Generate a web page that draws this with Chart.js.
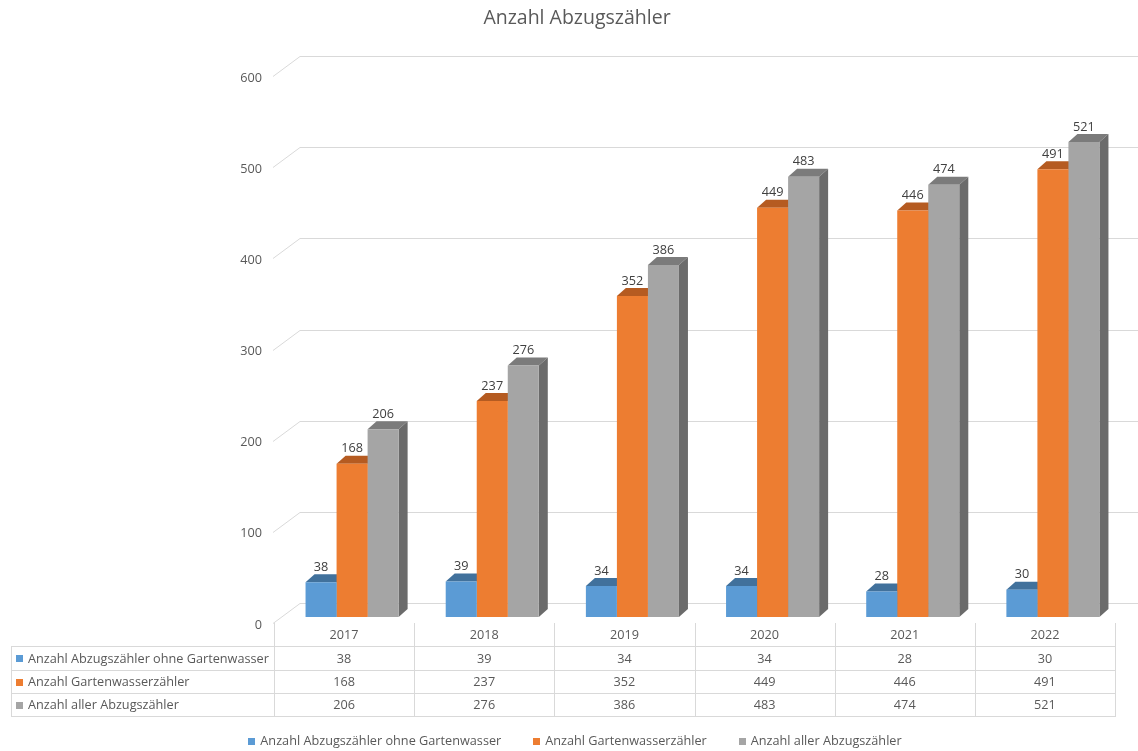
<!DOCTYPE html>
<html lang="de">
<head>
<meta charset="utf-8">
<title>Anzahl Abzugszähler</title>
<script src="https://cdn.jsdelivr.net/npm/chart.js@4.4.1/dist/chart.umd.min.js"></script>
<style>
  html, body { margin: 0; padding: 0; background: #fff; }
</style>
</head>
<body>
<canvas id="myChart" width="1138" height="751"></canvas>
<script>
// Daten
const jahre = ['2017', '2018', '2019', '2020', '2021', '2022'];
const ohneGartenwasser = [38, 39, 34, 34, 28, 30];
const gartenwasser = [168, 237, 352, 449, 446, 491];
const alleAbzug = [206, 276, 386, 483, 474, 521];
const serienNamen = [
    'Anzahl Abzugszähler ohne Gartenwasser',
    'Anzahl Gartenwasserzähler',
    'Anzahl aller Abzugszähler'
];
const titel = 'Anzahl Abzugszähler';
const yTicks = [0, 100, 200, 300, 400, 500, 600];

// Farben (Vorderseite, Oberseite, Seite)
const frontColors = ['#5b9bd5', '#ed7d31', '#a5a5a5'];
const topColors = ['#41719c', '#b55b21', '#7b7b7b'];
const sideColors = ['#3c6890', '#a9541e', '#6b6b6b'];
const FONT = '"Open Sans", "Noto Sans", sans-serif';
const SMALL = '12.7px ' + FONT;
const TEXT = '#595959';
const GRID = '#d9d9d9';
const DX = 9, DY = 8; // Tiefe der 3D-Balken

const excel3d = {
    id: 'excel3d',
    beforeDatasetsDraw(chart) {
        const {ctx, chartArea, scales: {y}} = chart;
        ctx.save();
        // Rückwand-Gitternetz mit schräger Bodenkante
        ctx.strokeStyle = GRID;
        ctx.lineWidth = 1;
        yTicks.forEach(v => {
            const py = Math.round(y.getPixelForValue(v)) + 0.5;
            ctx.beginPath();
            ctx.moveTo(chartArea.left - 9, py + 6);
            ctx.lineTo(chartArea.left + 18, py - 14);
            ctx.lineTo(chart.width, py - 14);
            ctx.stroke();
        });
        // Ober- und Seitenflächen, Vorderseiten zeichnet Chart.js darüber
        chart.data.datasets.forEach((ds, i) => {
            chart.getDatasetMeta(i).data.forEach(bar => {
                const p = bar.getProps(['x', 'y', 'width', 'base'], true);
                const l = p.x - p.width / 2, r = p.x + p.width / 2;
                ctx.fillStyle = topColors[i];
                ctx.beginPath();
                ctx.moveTo(l, p.y);
                ctx.lineTo(l + DX, p.y - DY);
                ctx.lineTo(r + DX, p.y - DY);
                ctx.lineTo(r, p.y);
                ctx.closePath();
                ctx.fill();
                ctx.fillStyle = sideColors[i];
                ctx.beginPath();
                ctx.moveTo(r, p.y);
                ctx.lineTo(r + DX, p.y - DY);
                ctx.lineTo(r + DX, p.base - DY);
                ctx.lineTo(r, p.base);
                ctx.closePath();
                ctx.fill();
            });
        });
        ctx.restore();
    },
    afterDatasetsDraw(chart) {
        const {ctx} = chart;
        ctx.save();
        ctx.font = SMALL;
        ctx.fillStyle = '#404040';
        ctx.textAlign = 'center';
        ctx.textBaseline = 'middle';
        chart.data.datasets.forEach((ds, i) => {
            chart.getDatasetMeta(i).data.forEach((bar, j) => {
                const p = bar.getProps(['x', 'y'], true);
                ctx.fillText(ds.data[j], p.x, p.y - 15);
            });
        });
        ctx.restore();
    },
    afterDraw(chart) {
        const {ctx, chartArea, scales: {x, y}} = chart;
        ctx.save();
        ctx.textBaseline = 'middle';

        // Titel
        ctx.font = '19.5px ' + FONT;
        ctx.fillStyle = TEXT;
        ctx.textAlign = 'center';
        ctx.fillText(titel, 577, 18);

        ctx.font = SMALL;
        // y-Achsenbeschriftung
        ctx.textAlign = 'right';
        yTicks.forEach(v => {
            ctx.fillText(String(v), chartArea.left - 20, y.getPixelForValue(v) + 8);
        });

        // Datentabelle
        const catW = (chartArea.right - chartArea.left) / jahre.length;
        const tLeft = 11;
        const colStart = chartArea.left - 8;
        const tTop = chartArea.bottom + 6;
        const rowH = 23.3;
        const tRight = colStart + catW * jahre.length;
        const rows = [ohneGartenwasser, gartenwasser, alleAbzug];
        ctx.strokeStyle = GRID;
        ctx.lineWidth = 1;
        ctx.beginPath();
        for (let r = 1; r <= rows.length + 1; r++) {
            const yy = Math.round(tTop + rowH * r) + 0.5;
            ctx.moveTo(tLeft, yy);
            ctx.lineTo(tRight, yy);
        }
        ctx.moveTo(tLeft + 0.5, Math.round(tTop + rowH));
        ctx.lineTo(tLeft + 0.5, Math.round(tTop + rowH * 4) + 1);
        for (let c = 0; c <= jahre.length; c++) {
            const xx = Math.round(colStart + catW * c) + 0.5;
            ctx.moveTo(xx, tTop);
            ctx.lineTo(xx, Math.round(tTop + rowH * 4) + 1);
        }
        ctx.stroke();

        ctx.textAlign = 'center';
        jahre.forEach((j, c) => {
            const cx = x.getPixelForValue(c) - 8;
            ctx.fillText(j, cx, tTop + rowH * 0.5 + 1);
            rows.forEach((vals, r) => {
                ctx.fillText(String(vals[c]), cx, tTop + rowH * (r + 1.5) + 1);
            });
        });
        ctx.textAlign = 'left';
        serienNamen.forEach((name, r) => {
            const cy = tTop + rowH * (r + 1.5) + 1;
            ctx.fillStyle = frontColors[r];
            ctx.fillRect(16, Math.round(cy - 3.5), 7, 7);
            ctx.fillStyle = TEXT;
            ctx.fillText(name, 28, cy);
        });

        // Legende
        const gap = 32;
        const widths = serienNamen.map(n => ctx.measureText(n).width);
        const total = widths.reduce((a, b) => a + b, 0) + serienNamen.length * 12 + gap * (serienNamen.length - 1);
        let lx = 575 - total / 2;
        const ly = 741;
        serienNamen.forEach((name, i) => {
            ctx.fillStyle = frontColors[i];
            ctx.fillRect(Math.round(lx), ly - 3, 7, 7);
            ctx.fillStyle = TEXT;
            ctx.fillText(name, lx + 12, ly);
            lx += 12 + widths[i] + gap;
        });
        ctx.restore();
    }
};

const ctx = document.getElementById('myChart').getContext('2d');
const myChart = new Chart(ctx, {
    type: 'bar',
    data: {
        labels: jahre,
        datasets: [
            { label: serienNamen[0], data: ohneGartenwasser, backgroundColor: frontColors[0] },
            { label: serienNamen[1], data: gartenwasser, backgroundColor: frontColors[1] },
            { label: serienNamen[2], data: alleAbzug, backgroundColor: frontColors[2] }
        ]
    },
    options: {
        responsive: false,
        animation: false,
        borderWidth: 0,
        barPercentage: 1,
        categoryPercentage: 0.664,
        layout: { padding: { left: 282, right: 15, top: 70, bottom: 134 } },
        plugins: {
            legend: { display: false },
            tooltip: { enabled: false },
            title: { display: false }
        },
        scales: {
            x: { display: false },
            y: { display: false, min: 0, max: 600 }
        }
    },
    plugins: [excel3d]
});
</script>
</body>
</html>
